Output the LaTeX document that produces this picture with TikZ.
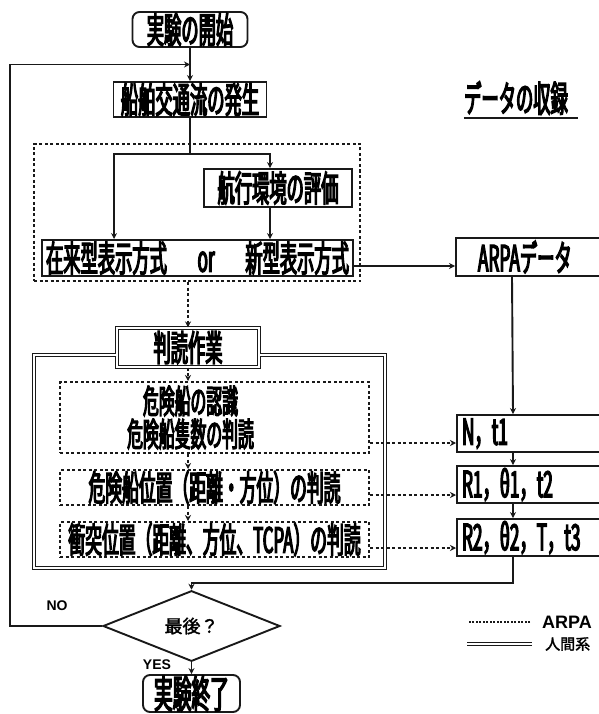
\documentclass[tikz,border=0pt]{standalone}
\usepackage{fontspec}
\setmainfont{Liberation Sans}
\newfontfamily\jpc[FakeStretch=0.48,AutoFakeBold=3.4]{Noto Sans CJK JP}
\newfontfamily\jpn[AutoFakeBold=2]{Noto Sans CJK JP}
\usetikzlibrary{shapes.geometric, arrows.meta, positioning, calc}

\begin{document}
\begin{tikzpicture}[
        x=1pt, y=-1pt,
        every node/.style={align=center},
        box/.style={
            rectangle, draw=black!90, line width=1.9pt,
            inner xsep=4pt, inner ysep=0pt,
            font=\jpc\bfseries\fontsize{36}{38}\selectfont
        },
        rbox/.style={box, rounded corners=7pt},
        dbox/.style={box, double=white, double distance=2pt, line width=1.1pt},
        dotbox/.style={
            rectangle, draw=black!90, line width=2pt,
            dash pattern=on 3pt off 2.5pt,
            inner xsep=4pt, inner ysep=0pt,
            font=\jpc\bfseries\fontsize{35}{37}\selectfont
        },
        databox/.style={box, anchor=west, minimum width=146pt,
            minimum height=37pt, text width=136pt, align=left},
        lbl/.style={font=\bfseries\fontsize{14}{16}\selectfont, inner sep=0pt},
        line/.style={line width=1.9pt, black!90},
        arr/.style={-{Stealth[length=6pt,width=6pt]}, line width=1.9pt, black!90},
        darr/.style={-{Stealth[length=6pt,width=6pt]}, line width=2pt, black!90,
            dash pattern=on 3pt off 2.5pt},
        dline/.style={line width=1.1pt, black!90, double=white, double distance=2pt},
        dotline/.style={line width=1.3pt, black!90, dash pattern=on 2pt off 1.5pt}
    ]
    \useasboundingbox (0,0) rectangle (599,714);

    \node[rbox, minimum width=115pt, minimum height=35pt] (start) at (190,29.5) {実験の開始};
    \node[box, minimum width=153pt, minimum height=35pt] (gen) at (190,99.5) {船舶交通流の発生};

    \node[dotbox, minimum width=326pt, minimum height=137pt] (sel) at (197,212.5) {};
    \node[box, minimum width=148pt, minimum height=38pt] (nav) at (278,188) {航行環境の評価};
    \node[box, minimum width=311pt, minimum height=36pt, text width=303pt, align=left] (disp) at (197.5,258)
        {在来型表示方式\hfill or\hfill 新型表示方式};

    \node[font=\jpc\bfseries\fontsize{36}{38}\selectfont, inner sep=0pt] (ttl) at (516,98) {データの収録};
    \draw[line width=2pt, black!90] ([yshift=-3pt]ttl.south west) -- ([xshift=10pt,yshift=-3pt]ttl.south east);

    \node[databox, minimum height=38pt] (arpa) at (455,257) {\hspace*{17pt}ARPAデータ};
    \node[databox] (nt) at (456,433.5) {N，t1};
    \node[databox] (r1) at (456,484.5) {R1，θ1，t2};
    \node[databox] (r2) at (456,537.5) {R2，θ2，T，t3};

    \node[dbox, minimum width=142pt, minimum height=39pt] (hant) at (188,347.5) {判読作業};
    \draw[dline] ([yshift=-7.5pt]hant.west) -| (34,568) -| (385,355) -- ([yshift=-7.5pt]hant.east);

    \node[dotbox, minimum width=309pt, minimum height=71pt,
        font=\jpc\bfseries\fontsize{33}{31}\selectfont] (risk1) at (214.5,417.5)
        {\hspace*{-48pt}危険船の認識\\[2pt]\hspace*{-48pt}危険船隻数の判読};
    \node[dotbox, minimum width=309pt, minimum height=35pt] (risk2) at (214.5,487.5) {危険船位置（距離・方位）の判読};
    \node[dotbox, minimum width=309pt, minimum height=35pt] (risk3) at (214.5,539.5) {衝突位置（距離、方位、TCPA）の判読};

    \node[diamond, draw=black!90, line width=1.9pt, minimum width=177pt, minimum height=40pt,
        inner sep=0pt, font=\jpn\bfseries\fontsize{18}{20}\selectfont] (last) at (191.5,626) {最後？};
    \node[rbox, minimum width=97pt, minimum height=37pt,
        font=\jpc\bfseries\fontsize{39}{40}\selectfont] (fin) at (191.5,693.5) {実験終了};

    \node[lbl] (no) at (57,606) {NO};
    \node[lbl] (yes) at (157,665) {YES};

    \node[anchor=west, inner sep=0pt, font=\bfseries\fontsize{18}{20}\selectfont] (lgarpa) at (542,622) {ARPA};
    \node[anchor=west, inner sep=0pt, font=\jpn\bfseries\fontsize{15}{17}\selectfont] (lghum) at (545,644) {人間系};
    \draw[dotline] ([xshift=-12pt]lgarpa.west) -- ++(-63,0);
    \draw[dline] ([xshift=-13pt]lghum.west) -- ++(-65,0);

    \coordinate (loop) at ($(start.south)!0.5!(gen.north)$);
    \coordinate (split) at ($(gen.south)+(0,36)$);

    \draw[arr] (start) -- (gen);
    \draw[arr] (last.west) -| (10,400) |- (loop);
    \draw[line] (gen) -- (split);
    \draw[arr] (split) -| ([xshift=-8pt]nav.north);
    \draw[arr] (split) -| ([xshift=73pt]disp.north west);
    \draw[arr] ([xshift=-8pt]nav.south) -- ([xshift=-8pt]nav.south |- disp.north);
    \draw[arr] ([yshift=-8pt]disp.east) -- ([yshift=-8pt]disp.east -| arpa.west);

    \draw[darr] (sel.south -| hant.north) -- (hant.north);
    \draw[darr] (hant.south) -- (hant.south |- risk1.north);
    \draw[darr] (risk1.south -| hant.south) -- (risk2.north -| hant.south);
    \draw[darr] (risk2.south -| hant.south) -- (risk3.north -| hant.south);
    \draw[darr] ([yshift=-9.5pt]nt.west -| risk1.east) -- ([yshift=-9.5pt]nt.west);
    \draw[darr] ([yshift=-10.5pt]r1.west -| risk2.east) -- ([yshift=-10.5pt]r1.west);
    \draw[darr] ([yshift=-10.5pt]r2.west -| risk3.east) -- ([yshift=-10.5pt]r2.west);

    \draw[arr] ([xshift=57pt]arpa.south west) -- ([xshift=57pt]nt.north west);
    \draw[arr] ([xshift=57pt]nt.south west) -- ([xshift=57pt]r1.north west);
    \draw[arr] ([xshift=57pt]r1.south west) -- ([xshift=57pt]r2.north west);
    \draw[arr] ([xshift=57pt]r2.south west) -- ++(0,26) -| (last.north);
    \draw[arr] (last.south) -- (fin.north);

    \end{tikzpicture}
\end{document}
